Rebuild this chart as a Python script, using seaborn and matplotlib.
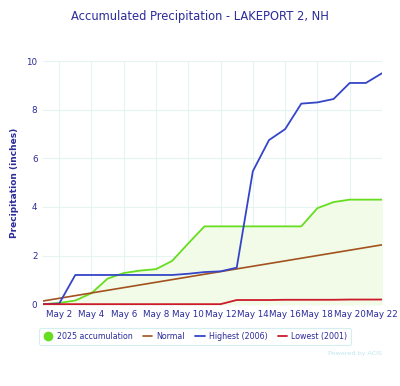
#Accumulated precipitation chart, Lakeport 2 NH
import numpy as np
import pandas as pd
import matplotlib
matplotlib.use("Agg")
import matplotlib.pyplot as plt
from matplotlib.lines import Line2D
from matplotlib.ticker import MultipleLocator
import seaborn as sns

#### Data
days = list(range(1, 23))  # May 1 .. May 22
acc_2025 = [0.0, 0.05, 0.15, 0.45, 1.05, 1.28, 1.38, 1.44, 1.78, 2.5, 3.2, 3.2,
            3.2, 3.2, 3.2, 3.2, 3.2, 3.95, 4.2, 4.3, 4.3, 4.3]
normal = [0.13, 0.24, 0.35, 0.46, 0.57, 0.68, 0.79, 0.9, 1.01, 1.12, 1.23, 1.34,
          1.45, 1.56, 1.67, 1.78, 1.89, 2.0, 2.11, 2.22, 2.33, 2.44]
highest_2006 = [0.0, 0.02, 1.2, 1.2, 1.2, 1.2, 1.2, 1.2, 1.2, 1.25, 1.32, 1.35,
                1.5, 5.47, 6.75, 7.2, 8.25, 8.3, 8.44, 9.1, 9.1, 9.5]
lowest_2001 = [0.0, 0.0, 0.0, 0.0, 0.0, 0.0, 0.0, 0.0, 0.0, 0.0, 0.0, 0.0,
               0.17, 0.17, 0.17, 0.18, 0.18, 0.18, 0.18, 0.19, 0.19, 0.19]
tick_days = [2, 4, 6, 8, 10, 12, 14, 16, 18, 20, 22]
tick_labels = [f"May {d}" for d in tick_days]

df = pd.DataFrame({"day": days, "acc": acc_2025, "normal": normal,
                   "high": highest_2006, "low": lowest_2001})

navy = "#2b2b9a"
c_green = "#66dd1f"
c_normal = "#a3521e"
c_high = "#3545c8"
c_low = "#cc1a2a"

sns.set_style("white")
plt.rcParams['font.family'] = ['DejaVu Sans']

fig = plt.figure(figsize=(4.0, 3.86), dpi=100)
ax = fig.add_axes([0.1075, 0.207, 0.8475, 0.636])

ax.fill_between(df["day"], 0, df["acc"], color="#f1fbe8", zorder=1)
sns.lineplot(data=df, x="day", y="acc", color=c_green, lw=1.3, ax=ax, zorder=3)
sns.lineplot(data=df, x="day", y="normal", color=c_normal, lw=1.2, ax=ax, zorder=3)
sns.lineplot(data=df, x="day", y="high", color=c_high, lw=1.3, ax=ax, zorder=4)
sns.lineplot(data=df, x="day", y="low", color=c_low, lw=1.3, ax=ax, zorder=4)

ax.set_xlim(1, 22)
ax.set_ylim(-0.08, 10.02)
ax.set_xticks(tick_days)
ax.set_xticklabels(tick_labels)
ax.yaxis.set_major_locator(MultipleLocator(2))
ax.yaxis.set_minor_locator(MultipleLocator(0.4))
ax.tick_params(axis="both", which="major", labelsize=6.3, labelcolor=navy,
               length=0, pad=4)
ax.tick_params(axis="x", which="major", pad=3)
ax.tick_params(axis="y", which="minor", length=2, color="#d8dde6", width=0.8)
ax.grid(True, which="major", color="#e6f3f3", lw=0.8, zorder=0)
for s in ax.spines.values():
    s.set_visible(False)
ax.set_xlabel("")
ax.set_ylabel("Precipitation (inches)", fontsize=6.5, color=navy,
              fontweight="bold", labelpad=5)

fig.text(0.5, 0.957, "Accumulated Precipitation - LAKEPORT 2, NH",
         ha="center", va="center", fontsize=8.3, color=navy)

handles = [
    Line2D([], [], marker="o", color="none", markerfacecolor=c_green,
           markeredgecolor=c_green, markersize=6),
    Line2D([], [], color=c_normal, lw=1.2),
    Line2D([], [], color=c_high, lw=1.3),
    Line2D([], [], color=c_low, lw=1.3),
]
labels = ["2025 accumulation", "Normal", "Highest (2006)", "Lowest (2001)"]
leg = fig.legend(handles, labels, loc="center", bbox_to_anchor=(0.488, 0.128),
                 ncol=4, fontsize=5.7, frameon=True, handlelength=1.2,
                 handletextpad=0.5, columnspacing=1.3, borderpad=0.5)
leg.get_frame().set_edgecolor("#c9ecec")
leg.get_frame().set_linewidth(0.8)
for t in leg.get_texts():
    t.set_color(navy)

fig.text(0.955, 0.083, "Powered by ACIS", ha="right", va="center",
         fontsize=4.6, color="#bfe6ee")

fig.savefig("out.png", dpi=100)
